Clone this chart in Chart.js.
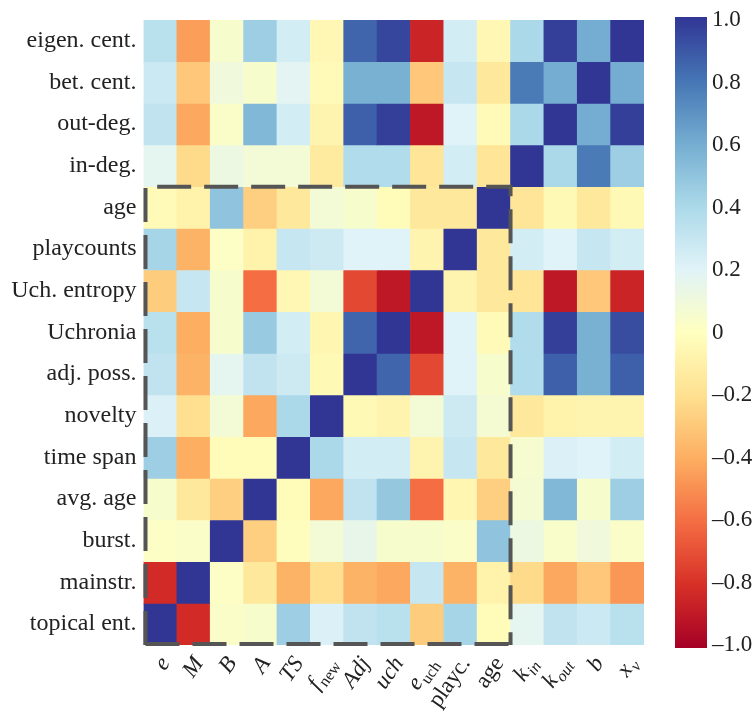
<!DOCTYPE html>
<html>
<head>
<meta charset="utf-8">
<script src="https://cdn.jsdelivr.net/npm/chart.js@4.4.1/dist/chart.umd.min.js"></script>
<style>
  body { margin: 0; background: #fff; }
  #wrap { width: 756px; height: 712px; position: relative; }
</style>
</head>
<body>
<div id="wrap"><canvas id="heat"></canvas></div>
<script>
// row names, top to bottom
const rowLabels = ['eigen. cent.', 'bet. cent.', 'out-deg.', 'in-deg.', 'age', 'playcounts',
  'Uch. entropy', 'Uchronia', 'adj. poss.', 'novelty', 'time span', 'avg. age', 'burst.',
  'mainstr.', 'topical ent.'];

// column names (main symbol + subscript)
const colLabels = ['e', 'M', 'B', 'A', 'TS', 'f', 'Adj', 'uch', 'e', 'playc.', 'age', 'k', 'k', 'b', 'x'];
const colSubs = ['', '', '', '', '', 'new', '', '', 'uch', '', '', 'in', 'out', '', 'v'];

// colour bar ticks
const cbTicks = [1, 0.8, 0.6, 0.4, 0.2, 0, -0.2, -0.4, -0.6, -0.8, -1];

// correlations, one row per rowLabels entry
const values = [
  [0.35, -0.45, 0.05, 0.45, 0.25, -0.05, 0.85, 0.95, -0.85, 0.25, -0.05, 0.40, 0.97, 0.60, 1.00],
  [0.28, -0.30, 0.10, 0.05, 0.18, -0.03, 0.58, 0.58, -0.30, 0.30, -0.15, 0.78, 0.60, 1.00, 0.60],
  [0.32, -0.42, 0.03, 0.55, 0.25, -0.07, 0.87, 0.97, -0.90, 0.20, -0.03, 0.40, 1.00, 0.60, 0.97],
  [0.17, -0.22, 0.12, 0.08, 0.08, -0.13, 0.38, 0.38, -0.17, 0.25, -0.17, 1.00, 0.40, 0.78, 0.45],
  [-0.03, -0.08, 0.50, -0.27, -0.15, 0.08, 0.05, -0.02, -0.15, -0.15, 1.00, -0.17, -0.04, -0.15, -0.04],
  [0.42, -0.38, 0.02, -0.08, 0.30, 0.27, 0.20, 0.20, -0.07, 1.00, -0.15, 0.25, 0.20, 0.30, 0.25],
  [-0.28, 0.30, 0.05, -0.60, -0.05, 0.08, -0.72, -0.90, 1.00, -0.07, -0.15, -0.17, -0.90, -0.30, -0.85],
  [0.35, -0.40, 0.05, 0.47, 0.25, -0.06, 0.85, 1.00, -0.90, 0.20, -0.03, 0.38, 0.97, 0.58, 0.93],
  [0.32, -0.38, 0.17, 0.32, 0.27, -0.04, 1.00, 0.85, -0.72, 0.20, 0.05, 0.38, 0.87, 0.58, 0.87],
  [0.22, -0.20, 0.08, -0.42, 0.40, 1.00, -0.04, -0.07, 0.08, 0.27, 0.07, -0.15, -0.08, -0.07, -0.07],
  [0.45, -0.40, -0.02, -0.02, 1.00, 0.40, 0.25, 0.25, -0.07, 0.30, -0.15, 0.06, 0.22, 0.20, 0.25],
  [0.05, -0.15, -0.27, 1.00, -0.02, -0.42, 0.32, 0.48, -0.60, -0.06, -0.27, 0.07, 0.55, 0.05, 0.45],
  [0.02, 0.03, 1.00, -0.27, -0.01, 0.08, 0.15, 0.05, 0.05, 0.03, 0.50, 0.12, 0.04, 0.10, 0.03],
  [-0.82, 1.00, 0.02, -0.15, -0.38, -0.20, -0.38, -0.42, 0.30, -0.38, -0.08, -0.22, -0.42, -0.30, -0.47],
  [1.00, -0.82, 0.03, 0.05, 0.45, 0.22, 0.32, 0.35, -0.28, 0.42, -0.02, 0.17, 0.32, 0.28, 0.35]
];

// RdYlBu, red (-1) to blue (+1)
const stops = ['#a50026', '#d73027', '#f46d43', '#fdae61', '#fee090', '#ffffbf',
  '#e0f3f8', '#abd9e9', '#74add1', '#4575b4', '#313695'];

function hexRgb(h) {
  return [parseInt(h.slice(1, 3), 16), parseInt(h.slice(3, 5), 16), parseInt(h.slice(5, 7), 16)];
}
function colorFor(v) {
  let t = (Math.max(-1, Math.min(1, v)) + 1) / 2 * (stops.length - 1);
  let i = Math.min(Math.floor(t), stops.length - 2);
  let f = t - i;
  let a = hexRgb(stops[i]), b = hexRgb(stops[i + 1]);
  let c = a.map((x, k) => Math.round(x + (b[k] - x) * f));
  return 'rgb(' + c.join(',') + ')';
}

const SERIF = '"Liberation Serif", "DejaVu Serif", serif';

// one stacked dataset per row, each cell 1 unit tall
const datasets = values.map((row, r) => ({
  label: rowLabels[r],
  data: row.map(() => 1),
  backgroundColor: row.map(colorFor),
  borderWidth: 0,
  barPercentage: 1,
  categoryPercentage: 1,
  yAxisID: 'y'
}));

const extras = {
  id: 'extras',
  afterDraw(chart) {
    const ctx = chart.ctx;
    const xs = chart.scales.x, ys = chart.scales.y, cb = chart.scales.cb;

    // colour bar
    const barL = cb.left + 31, barW = 32;
    const top = cb.getPixelForValue(1) - 3, bot = cb.getPixelForValue(-1) + 3;
    const g = ctx.createLinearGradient(0, top, 0, bot);
    stops.slice().reverse().forEach((s, i) => g.addColorStop(i / (stops.length - 1), s));
    ctx.save();
    ctx.fillStyle = g;
    ctx.fillRect(barL, top, barW, bot - top);
    ctx.restore();

    // dashed box around the inner block (rows age..topical ent., cols e..age)
    const half = (xs.getPixelForValue(1) - xs.getPixelForValue(0)) / 2;
    const bx0 = xs.getPixelForValue(0) - half;
    const bx1 = xs.getPixelForValue(10) + half;
    const by0 = ys.getPixelForValue(4);
    const by1 = ys.getPixelForValue(15);
    ctx.save();
    ctx.strokeStyle = '#555';
    ctx.lineWidth = 4;
    ctx.setLineDash([34, 13]);
    ctx.beginPath();
    ctx.moveTo(bx0 + 2, by1);
    ctx.lineTo(bx0 + 2, by0);
    ctx.lineTo(bx1, by0);
    ctx.lineTo(bx1, by1);
    ctx.moveTo(bx0 + 2, by1 - 1);
    ctx.lineTo(bx1, by1 - 1);
    ctx.stroke();
    ctx.restore();

    // rotated column labels with subscripts
    const ang = 55 * Math.PI / 180;
    const cs = Math.cos(ang), sn = Math.sin(ang);
    ctx.save();
    ctx.fillStyle = '#222';
    colLabels.forEach((lab, i) => {
      const upright = (lab === 'playc.' || lab === 'age');
      const sub = colSubs[i];
      const mainFont = (upright ? '' : 'italic ') + '23px ' + SERIF;
      const subFont = ((sub === 'v' || sub === 'in' || sub === 'out') ? 'italic ' : '') + '16px ' + SERIF;
      ctx.font = mainFont;
      const mw = ctx.measureText(lab).width;
      ctx.font = subFont;
      const sw = sub ? ctx.measureText(sub).width + 1 : 0;
      const W = mw + sw, H = 16;
      const hx = (W * cs + H * sn) / 2, hy = (W * sn + H * cs) / 2;
      const px = xs.getPixelForValue(i) + 12 - hx;
      const py = by1 + 10 + hy;
      ctx.save();
      ctx.translate(px, py);
      ctx.rotate(-ang);
      ctx.textBaseline = 'middle';
      ctx.textAlign = 'left';
      ctx.font = mainFont;
      ctx.fillText(lab, -W / 2, 0);
      if (sub) {
        ctx.font = subFont;
        ctx.fillText(sub, -W / 2 + mw + 1, 7);
      }
      ctx.restore();
    });
    ctx.restore();
  }
};

new Chart(document.getElementById('heat'), {
  type: 'bar',
  data: { labels: colLabels, datasets: datasets },
  plugins: [extras],
  options: {
    responsive: true,
    maintainAspectRatio: false,
    animation: false,
    layout: { padding: { top: 20, left: 0, right: 0, bottom: 0 } },
    plugins: { legend: { display: false }, tooltip: { enabled: false } },
    scales: {
      x: {
        stacked: true,
        grid: { display: false, drawTicks: false },
        border: { display: false },
        ticks: { display: false },
        afterFit: (s) => { s.height = 67; }
      },
      y: {
        stacked: true,
        reverse: true,
        min: 0,
        max: 15,
        display: false
      },
      rows: {
        type: 'category',
        labels: rowLabels,
        position: 'left',
        offset: true,
        grid: { display: false, drawTicks: false },
        border: { display: false },
        ticks: { color: '#222', padding: 7, font: { family: SERIF, size: 24 } },
        afterFit: (s) => { s.width = 143.5; s.paddingTop = 0; s.paddingBottom = 0; }
      },
      cb: {
        type: 'linear',
        position: 'right',
        min: -1,
        max: 1,
        afterBuildTicks: (s) => { s.ticks = cbTicks.map(v => ({ value: v })); },
        grid: { display: false, drawTicks: false },
        border: { display: false },
        ticks: {
          color: '#222',
          padding: 68,
          font: { family: SERIF, size: 23 },
          callback: (v) => v === 0 ? '0' : (v < 0 ? '\u2013' + Math.abs(v).toFixed(1) : v.toFixed(1))
        },
        afterFit: (s) => { s.width = 112; s.paddingTop = 0; s.paddingBottom = 0; }
      }
    }
  }
});
</script>
</body>
</html>
